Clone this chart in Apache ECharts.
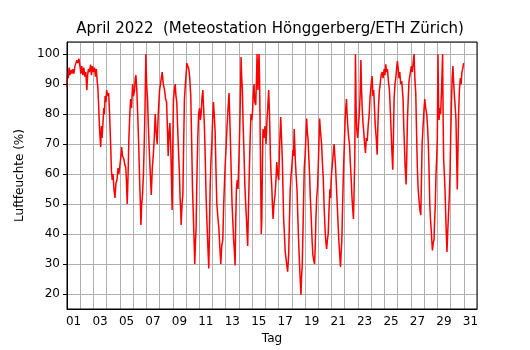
<!DOCTYPE html>
<html>
<head>
<meta charset="utf-8">
<script src="https://cdn.jsdelivr.net/npm/echarts@6/dist/echarts.min.js"></script>
<style>
  html, body { margin: 0; padding: 0; background: #fff; }
  #box1 { width: 530px; height: 350px; }
</style>
</head>
<body>
<div id="box1"></div>
<script>
var myChart = echarts.init(document.getElementById('box1'));

// day labels (one band per day)
let dayLabels = [];
for (let d = 1; d <= 31; d++) dayLabels.push(d < 10 ? '0' + d : '' + d);

// time in days since 1 April 00:00
let days = [
    0.00, 0.05, 0.10, 0.16, 0.22, 0.30, 0.38, 0.45, 0.52, 0.60, 0.68, 0.75, 0.82, 0.90, 0.98, 1.05,
    1.12, 1.20, 1.27, 1.35, 1.42, 1.50, 1.56, 1.62, 1.70, 1.78, 1.85, 1.92, 2.00, 2.08, 2.15, 2.22,
    2.28, 2.33, 2.40, 2.45, 2.50, 2.55, 2.60, 2.65, 2.72, 2.78, 2.83, 2.88, 2.95, 3.00, 3.08, 3.15,
    3.22, 3.30, 3.36, 3.42, 3.48, 3.55, 3.63, 3.70, 3.78, 3.86, 3.92, 4.00, 4.08, 4.13, 4.20, 4.30,
    4.38, 4.45, 4.50, 4.55, 4.62, 4.68, 4.75, 4.81, 4.88, 4.96, 5.03, 5.11, 5.16, 5.21, 5.28, 5.36,
    5.42, 5.49, 5.55, 5.59, 5.65, 5.71, 5.78, 5.84, 5.90, 5.96, 6.02, 6.09, 6.15, 6.22, 6.30, 6.37,
    6.45, 6.52, 6.60, 6.67, 6.74, 6.82, 6.90, 7.00, 7.10, 7.20, 7.28, 7.38, 7.45, 7.53, 7.60, 7.65,
    7.72, 7.78, 7.85, 7.95, 8.00, 8.05, 8.12, 8.18, 8.24, 8.30, 8.37, 8.43, 8.50, 8.55, 8.60, 8.63,
    8.70, 8.76, 8.82, 8.88, 8.95, 9.02, 9.06, 9.13, 9.21, 9.28, 9.36, 9.42, 9.49, 9.56, 9.62, 9.66,
    9.72, 9.76, 9.82, 9.89, 9.95, 10.02, 10.08, 10.14, 10.20, 10.27, 10.33, 10.39, 10.45, 10.52, 10.58, 10.65,
    10.72, 10.77, 10.82, 10.88, 10.95, 11.01, 11.07, 11.13, 11.20, 11.26, 11.33, 11.40, 11.48, 11.55, 11.63, 11.70,
    11.78, 11.85, 11.95, 12.02, 12.10, 12.18, 12.25, 12.30, 12.35, 12.42, 12.48, 12.54, 12.60, 12.66, 12.71, 12.76,
    12.81, 12.87, 12.93, 13.00, 13.06, 13.12, 13.16, 13.21, 13.26, 13.32, 13.39, 13.45, 13.51, 13.58, 13.66, 13.72,
    13.79, 13.85, 13.91, 13.96, 14.02, 14.08, 14.14, 14.20, 14.27, 14.33, 14.37, 14.41, 14.44, 14.48, 14.52, 14.56,
    14.59, 14.64, 14.69, 14.73, 14.78, 14.82, 14.90, 14.97, 15.05, 15.12, 15.18, 15.25, 15.31, 15.38, 15.43, 15.48,
    15.53, 15.58, 15.65, 15.73, 15.80, 15.86, 15.93, 16.01, 16.08, 16.16, 16.22, 16.28, 16.33, 16.38, 16.44, 16.50,
    16.58, 16.68, 16.72, 16.76, 16.82, 16.88, 16.95, 17.01, 17.08, 17.13, 17.18, 17.22, 17.26, 17.32, 17.39, 17.45,
    17.51, 17.58, 17.64, 17.69, 17.74, 17.79, 17.86, 17.94, 18.00, 18.06, 18.12, 18.17, 18.22, 18.28, 18.34, 18.40,
    18.47, 18.53, 18.59, 18.66, 18.72, 18.77, 18.82, 18.88, 18.95, 19.02, 19.10, 19.17, 19.25, 19.31, 19.38, 19.45,
    19.53, 19.58, 19.63, 19.69, 19.75, 19.81, 19.88, 19.93, 19.97, 20.04, 20.10, 20.15, 20.20, 20.25, 20.30, 20.36,
    20.43, 20.49, 20.55, 20.62, 20.68, 20.73, 20.78, 20.84, 20.91, 20.97, 21.03, 21.08, 21.13, 21.18, 21.23, 21.30,
    21.36, 21.42, 21.49, 21.55, 21.61, 21.66, 21.71, 21.76, 21.81, 21.86, 21.91, 21.97, 22.04, 22.10, 22.16, 22.22,
    22.27, 22.32, 22.38, 22.44, 22.50, 22.57, 22.63, 22.70, 22.77, 22.85, 22.92, 23.00, 23.07, 23.13, 23.19, 23.25,
    23.31, 23.38, 23.45, 23.50, 23.55, 23.62, 23.68, 23.75, 23.83, 23.90, 23.98, 24.04, 24.10, 24.16, 24.23, 24.30,
    24.38, 24.44, 24.50, 24.56, 24.63, 24.68, 24.73, 24.80, 24.86, 24.92, 24.98, 25.05, 25.10, 25.16, 25.23, 25.31,
    25.36, 25.41, 25.46, 25.51, 25.57, 25.64, 25.69, 25.74, 25.80, 25.86, 25.93, 26.00, 26.04, 26.10, 26.17, 26.24,
    26.30, 26.37, 26.43, 26.49, 26.55, 26.62, 26.68, 26.75, 26.80, 26.85, 26.90, 26.95, 27.00, 27.05, 27.12, 27.20,
    27.26, 27.32, 27.38, 27.43, 27.48, 27.53, 27.58, 27.63, 27.69, 27.75, 27.80, 27.85, 27.90, 27.95, 28.00, 28.05,
    28.09, 28.13, 28.19, 28.25, 28.32, 28.40, 28.44, 28.48, 28.53, 28.58, 28.65, 28.73, 28.78, 28.83, 28.90, 28.96,
    29.01, 29.06, 29.12, 29.18, 29.24, 29.31, 29.36, 29.41, 29.46, 29.51, 29.56, 29.61, 29.67, 29.74, 29.80, 29.86,
    29.92, 29.99
];
// relative humidity in %
let humidity = [
    89, 94, 92, 95.5, 93, 94.7, 93.5, 95, 93.5, 96, 96.5, 98, 97, 98.5, 96, 93.5,
    96, 93, 95.5, 92.5, 94, 88, 93, 95, 94, 96.5, 93, 96, 94, 95.5, 92.5, 95,
    91, 89, 82, 76, 72, 69, 76, 72, 77, 82, 80, 86, 84, 88, 86, 87,
    80, 70, 61, 58, 60, 55, 52, 57, 58, 62, 60, 63, 66, 69, 66, 65,
    63, 62, 57, 50, 60, 72, 80, 85, 82, 90, 86, 88, 92, 93, 88, 78,
    70, 58, 50, 43, 50, 53, 60, 70, 82, 100, 90, 85, 76, 68, 60, 53,
    62, 66, 72, 80, 74, 70, 80, 88, 91, 94, 90, 88, 85, 84, 74, 66,
    74, 77, 68, 48, 70, 85, 88, 90, 86, 84, 75, 68, 60, 52, 48, 43,
    50, 53, 70, 85, 90, 94, 97, 96, 95, 92, 86, 72, 55, 45, 36, 30,
    38, 42, 58, 72, 80, 82, 78, 80, 85, 88, 82, 76, 66, 52, 44, 36,
    28.5, 40, 55, 64, 70, 78, 84, 80, 74, 62, 50, 46, 42, 36, 30, 36,
    38, 50, 62, 68, 76, 82, 87, 80, 72, 60, 50, 44, 38, 34, 29.5, 45,
    55, 58, 55, 65, 75, 88, 99, 92, 88, 76, 66, 56, 50, 44, 36, 48,
    62, 72, 80, 78, 80, 86, 90, 84, 83, 92, 100, 92, 88, 96, 100, 92,
    80, 60, 40, 45, 65, 75, 72, 76, 70, 78, 82, 88, 80, 66, 60, 56,
    50, 45, 50, 53, 58, 64, 60, 58, 70, 79, 72, 65, 55, 45, 40, 34,
    31, 27.4, 30, 33, 45, 55, 60, 63, 68, 66, 75, 70, 65, 60, 55, 46,
    38, 30, 24, 19.7, 26, 30, 45, 62, 66, 72, 78.5, 74, 72, 66, 60, 52,
    45, 38, 33, 31, 30, 36, 45, 52, 56, 66, 78.5, 74, 70, 64, 58, 48,
    40, 37, 35, 38, 40, 48, 55, 52, 58, 62, 65, 68, 70, 66, 63, 57,
    50, 44, 38, 33, 29, 34, 38, 50, 62, 70, 78, 82, 85, 80, 76, 72,
    70, 64, 58, 52, 48, 45, 55, 65, 100, 82, 75, 72, 76, 80, 86, 98,
    88, 82, 77, 74, 70, 67, 72, 71, 76, 80, 86, 90, 92.7, 86, 88, 82,
    76, 72, 66.4, 75, 82, 88, 90, 93, 94, 92, 95, 93, 96.6, 94, 95, 91,
    88, 82, 75, 68, 61.4, 72, 85, 90, 92, 95, 97.7, 95, 92, 94, 90, 91,
    88, 85, 76, 70, 62, 56.5, 66, 78, 85, 91, 93, 95, 96, 94, 97, 100,
    92, 87, 74, 62, 55, 51, 48, 46.3, 58, 70, 74, 78, 82, 85, 82, 80,
    76, 70, 60, 50, 45, 42, 38, 34.5, 37, 38, 45, 50, 60, 65, 72, 100,
    84, 78, 82, 80, 88, 100, 78, 65, 60, 55, 44, 34, 40, 45, 52, 60,
    72, 82, 92, 96, 90, 85, 82, 78, 66, 54.8, 68, 80, 88, 92, 90, 94,
    95, 97
];

let data = days.map(function (d, i) { return [d, humidity[i]]; });

let font = 'DejaVu Sans';

option = {
    animation: false,
    textStyle: { fontFamily: font },
    title: {
        text: 'April 2022  (Meteostation Hönggerberg/ETH Zürich)',
        left: 265,
        textAlign: 'center',
        top: 17,
        textStyle: { fontFamily: font, fontSize: 15, fontWeight: 'normal', color: '#000' }
    },
    grid: {
        left: 67,
        top: 42,
        width: 410,
        height: 271,
        show: true,
        borderColor: '#000',
        borderWidth: 1,
        z: 5
    },
    xAxis: [
        {
            type: 'category',
            data: dayLabels,
            boundaryGap: true,
            name: 'Tag',
            nameLocation: 'middle',
            nameGap: 24,
            nameTextStyle: { fontFamily: font, fontSize: 12, color: '#000' },
            axisLine: { lineStyle: { color: '#000' } },
            axisTick: { interval: 0, length: 4, lineStyle: { color: '#000' } },
            axisLabel: { interval: 1, margin: 7, fontFamily: font, fontSize: 12, color: '#000' },
            splitLine: { show: true, interval: 0, lineStyle: { color: '#b0b0b0', width: 1 } }
        },
        {
            type: 'value',
            min: 0,
            max: 31,
            show: false
        }
    ],
    yAxis: {
        type: 'value',
        min: 14.95,
        max: 104.05,
        splitNumber: 9,
        name: 'Luftfeuchte (%)',
        nameLocation: 'middle',
        nameGap: 40,
        nameTextStyle: { fontFamily: font, fontSize: 12, color: '#000' },
        axisLine: { show: true, lineStyle: { color: '#000' } },
        axisTick: { show: true, length: 4, lineStyle: { color: '#000' } },
        axisLabel: { showMinLabel: false, showMaxLabel: false, margin: 7, fontFamily: font, fontSize: 12, color: '#000' },
        splitLine: { show: true, lineStyle: { color: '#b0b0b0', width: 1 } }
    },
    series: [
        {
            name: 'Luftfeuchte',
            type: 'line',
            xAxisIndex: 1,
            showSymbol: false,
            data: data,
            lineStyle: { color: '#ff0000', width: 1.5 },
            itemStyle: { color: '#ff0000' }
        }
    ]
};
myChart.setOption(option);
</script>
</body>
</html>
